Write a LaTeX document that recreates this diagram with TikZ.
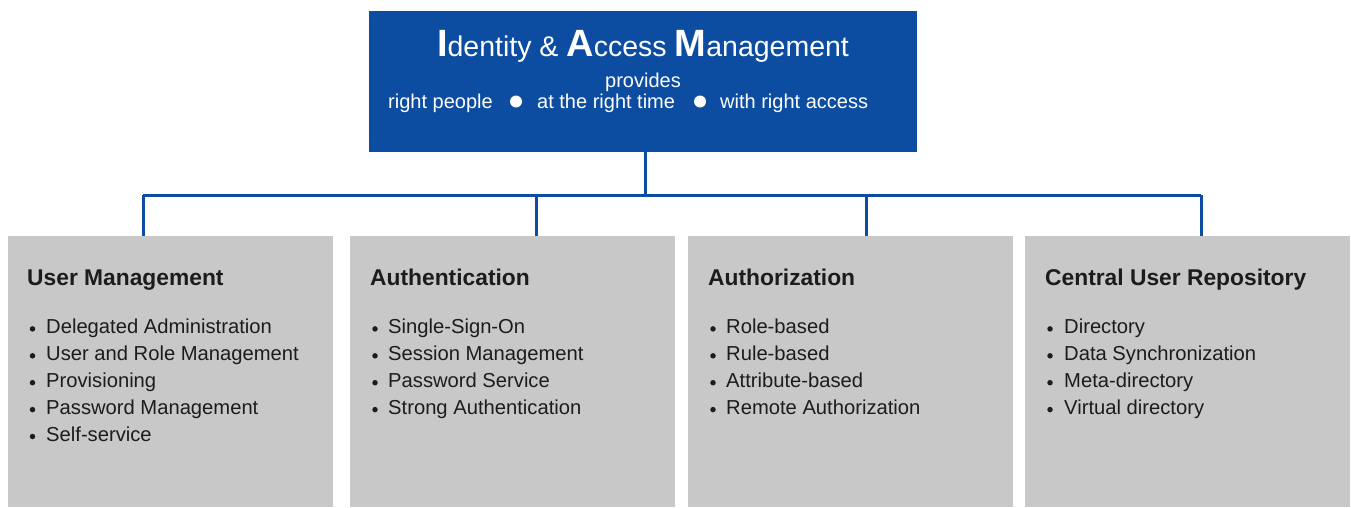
\documentclass[tikz,border=0pt]{standalone}
\usepackage{fontspec}
\setmainfont{Liberation Sans}
\definecolor{iamblue}{RGB}{12,77,162}
\definecolor{boxgray}{RGB}{200,200,200}
\definecolor{txt}{RGB}{28,28,28}
\begin{document}
\begin{tikzpicture}[x=1pt,y=-1pt,
  topbox/.style={fill=iamblue, draw=none, minimum width=548pt, minimum height=141pt, inner sep=0, anchor=north west},
  catbox/.style={fill=boxgray, draw=none, minimum width=325pt, minimum height=271pt, inner sep=0, anchor=north west},
  toptxt/.style={text=white, inner sep=0, font=\fontsize{20}{20}\selectfont},
  ttl/.style={anchor=base west, inner sep=0, text=txt, font=\fontsize{22.8}{22.8}\selectfont\bfseries},
  itm/.style={anchor=base west, inner sep=0, text=txt, font=\fontsize{20.2}{20.2}\selectfont},
  bdot/.style={circle, fill=txt, draw=none, inner sep=0, minimum size=5.5pt},
  wdot/.style={circle, fill=white, draw=none, inner sep=0, minimum size=12pt},
  conn/.style={draw=iamblue, line width=3pt}
]
\useasboundingbox (0,0) rectangle (1351,507);

% top box
\node[topbox] (top) at (369,11) {};
\node[toptxt, anchor=base] (title) at (643,56) {{\fontsize{38}{38}\selectfont\bfseries I}{\fontsize{28.5}{28.5}\selectfont dentity \& }{\fontsize{38}{38}\selectfont\bfseries A}{\fontsize{28.5}{28.5}\selectfont ccess }{\fontsize{38}{38}\selectfont\bfseries M}{\fontsize{28.5}{28.5}\selectfont anagement}};
\node[toptxt, anchor=base] (prov) at (643,87) {provides};
\node[toptxt, anchor=base west] (t1) at (388,108) {right people};
\node[wdot] (w1) at (516,101.5) {};
\node[toptxt, anchor=base west] (t2) at (537,108) {at the right time};
\node[wdot] (w2) at (700,101.5) {};
\node[toptxt, anchor=base west] (t3) at (720,108) {with right access};

% category boxes
\node[catbox] (b1) at (8,236) {};
\node[catbox] (b2) at (350,236) {};
\node[catbox] (b3) at (688,236) {};
\node[catbox] (b4) at (1025,236) {};

% connectors
\coordinate (bar) at (645,195);
\coordinate (d1) at (143,236);
\coordinate (d2) at (536,236);
\coordinate (d3) at (866,236);
\coordinate (d4) at (1201,236);
\draw[conn] (top.south -| bar) -- (bar);
\draw[conn] (d1 |- bar) -- (d4 |- bar);
\draw[conn] (d1 |- bar) -- (d1);
\draw[conn] (d2 |- bar) -- (d2);
\draw[conn] (d3 |- bar) -- (d3);
\draw[conn] (d4 |- bar) -- (d4);

% titles
\node[ttl] (h1) at (27,285) {User Management};
\node[ttl] (h2) at (370,285) {Authentication};
\node[ttl] (h3) at (708,285) {Authorization};
\node[ttl] (h4) at (1045,285) {Central User Repository};

% items
\foreach \lbl [count=\i] in {Delegated Administration, User and Role Management, Provisioning, Password Management, Self-service} {
  \node[itm] (ua\i) at (46,{307+26.9*\i}) {\lbl};
  \node[bdot] (ub\i) at (32.5,{302+26.9*\i}) {};
}
\foreach \lbl [count=\i] in {Single-Sign-On, Session Management, Password Service, Strong Authentication} {
  \node[itm] (aa\i) at (388,{307+26.9*\i}) {\lbl};
  \node[bdot] (ab\i) at (375,{302+26.9*\i}) {};
}
\foreach \lbl [count=\i] in {Role-based, Rule-based, Attribute-based, Remote Authorization} {
  \node[itm] (za\i) at (726,{307+26.9*\i}) {\lbl};
  \node[bdot] (zb\i) at (713,{302+26.9*\i}) {};
}
\foreach \lbl [count=\i] in {Directory, Data Synchronization, Meta-directory, Virtual directory} {
  \node[itm] (ca\i) at (1064,{307+26.9*\i}) {\lbl};
  \node[bdot] (cb\i) at (1050,{302+26.9*\i}) {};
}
\end{tikzpicture}
\end{document}
